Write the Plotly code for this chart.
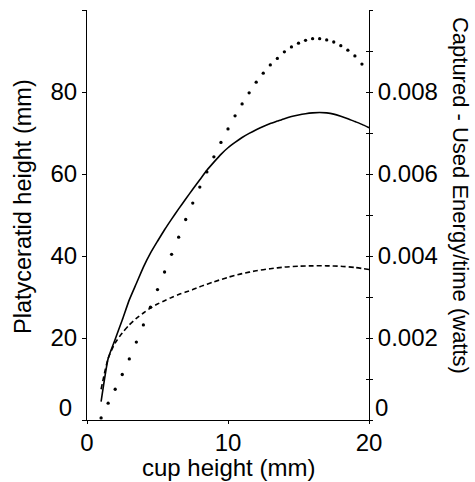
import plotly.graph_objects as go

# ---- data ----
solid_x = [1.0, 1.5, 2.0, 2.5, 3.0, 3.5, 4.0, 4.5, 5.0, 5.5, 6.0, 6.5, 7.0, 7.5, 8.0, 8.5, 9.0,
           9.5, 10.0, 10.5, 11.0, 11.5, 12.0, 12.5, 13.0, 13.5, 14.0, 14.5, 15.0, 15.5, 16.0,
           16.5, 17.0, 17.5, 18.0, 18.5, 19.0, 19.5, 20.0]
solid_y = [4.5, 15.0, 19.7, 24.4, 29.3, 33.3, 37.3, 40.7, 43.6, 46.4, 49.0, 51.5, 53.9, 56.3,
           58.6, 60.9, 62.9, 64.8, 66.4, 67.7, 68.9, 69.9, 70.8, 71.6, 72.3, 72.9, 73.5, 74.0,
           74.4, 74.7, 74.9, 75.0, 74.9, 74.6, 74.1, 73.5, 72.8, 72.1, 71.3]

dash_x = [1.0, 1.5, 2.0, 2.5, 3.0, 3.5, 4.0, 4.5, 5.0, 5.5, 6.0, 6.5, 7.0, 7.5, 8.0, 9.0, 10.0,
          11.0, 12.0, 13.0, 14.0, 15.0, 16.0, 17.0, 18.0, 19.0, 20.0]
dash_y = [7.5, 15.0, 18.8, 21.2, 23.2, 24.8, 26.1, 27.3, 28.3, 29.1, 29.9, 30.6, 31.2, 31.8,
          32.5, 33.7, 34.8, 35.7, 36.4, 36.9, 37.3, 37.5, 37.6, 37.6, 37.5, 37.2, 36.7]

dot_x = [1.0, 1.5, 2.0, 2.5, 3.0, 3.5, 4.0, 4.5, 5.0, 5.5, 6.0, 6.5, 7.0, 7.5, 8.0, 8.5, 9.0,
         9.5, 10.0, 10.5, 11.0, 11.5, 12.0, 12.5, 13.0, 13.5, 14.0, 14.5, 15.0, 15.5, 16.0,
         16.5, 17.0, 17.5, 18.0, 18.5, 19.0, 19.5]
dot_watts = [0.00005, 0.00041, 0.00075, 0.00111, 0.00149, 0.00190, 0.00232, 0.00275, 0.00318,
             0.00361, 0.00404, 0.00446, 0.00489, 0.00529, 0.00568, 0.00605, 0.00642, 0.00677,
             0.00710, 0.00742, 0.00771, 0.00798, 0.00824, 0.00846, 0.00866, 0.00882, 0.00898,
             0.00910, 0.00919, 0.00926, 0.00930, 0.00930, 0.00927, 0.00922, 0.00913, 0.00902,
             0.00888, 0.00868]

left_ticks = [0, 20, 40, 60, 80, 100]
left_labels = ["", "20", "40", "60", "80", ""]
right_ticks = [0, 0.001, 0.002, 0.003, 0.004, 0.005, 0.006, 0.007, 0.008, 0.009, 0.01]
right_labels = ["", "", "0.002", "", "0.004", "", "0.006", "", "0.008", "", ""]
x_ticks = [0, 10, 20]

FONT = "Liberation Sans, Arial, sans-serif"
TF = dict(family=FONT, size=24, color="black")

fig = go.Figure()
fig.add_trace(go.Scatter(x=solid_x, y=solid_y, mode="lines", line_shape="spline",
                         line=dict(color="black", width=1.6, smoothing=0.5), yaxis="y"))
fig.add_trace(go.Scatter(x=dash_x, y=dash_y, mode="lines", line_shape="spline",
                         line=dict(color="black", width=1.6, dash="5px,3px", smoothing=0.7),
                         yaxis="y"))
fig.add_trace(go.Scatter(x=dot_x, y=dot_watts, mode="markers",
                         marker=dict(color="black", size=3.3), yaxis="y2"))
fig.add_trace(go.Scatter(x=[None], y=[None], yaxis="y3", showlegend=False))
fig.add_trace(go.Scatter(x=[None], y=[None], yaxis="y4", showlegend=False))

fig.update_layout(
    width=475, height=482,
    margin=dict(l=87, r=106, t=10, b=62),
    paper_bgcolor="white", plot_bgcolor="white",
    showlegend=False,
    font=TF,
    xaxis=dict(range=[0, 20], tickvals=x_ticks, ticks="outside", ticklen=3,
               tickcolor="black", showline=True, linecolor="black", linewidth=1,
               showgrid=False, zeroline=False, tickfont=TF, ticklabelstandoff=-2),
    yaxis=dict(range=[0, 100], tickvals=left_ticks, ticktext=left_labels,
               ticks="outside", ticklen=4, tickcolor="black", showline=True,
               linecolor="black", linewidth=1, showgrid=False, zeroline=False, tickfont=TF),
    yaxis3=dict(range=[0, 100], overlaying="y", side="left", tickvals=[0], ticktext=["0"],
                ticks="", showline=False, showgrid=False, zeroline=False,
                ticklabelshift=-12, ticklabelstandoff=14, tickfont=TF),
    yaxis2=dict(range=[0, 0.01], overlaying="y", side="right", tickvals=right_ticks,
                ticktext=right_labels, ticks="outside", ticklen=3, tickcolor="black",
                showline=True, linecolor="black", linewidth=1, showgrid=False,
                zeroline=False, tickfont=TF),
    yaxis4=dict(range=[0, 0.01], overlaying="y", side="right", tickvals=right_ticks,
                ticktext=["0"] + [""] * 10, ticks="inside", ticklen=3, tickcolor="black",
                showline=False, showgrid=False, zeroline=False, ticklabelshift=-12,
                ticklabelstandoff=5, tickfont=TF),
    annotations=[
        dict(text="cup height (mm)", xref="paper", yref="paper", x=0.5, y=-0.116,
             xanchor="center", yanchor="middle", showarrow=False,
             font=dict(family=FONT, size=24, color="black")),
        dict(text="Platyceratid height (mm)", xref="paper", yref="paper", x=-0.227, y=0.522,
             xanchor="center", yanchor="middle", textangle=-90, showarrow=False,
             font=dict(family=FONT, size=23.5, color="black")),
        dict(text="Captured - Used Energy/time (watts)", xref="paper", yref="paper",
             x=1.3227, y=0.549, xanchor="center", yanchor="middle", textangle=90,
             showarrow=False, font=dict(family=FONT, size=22, color="black")),
    ],
)

fig.write_html("out.html")
